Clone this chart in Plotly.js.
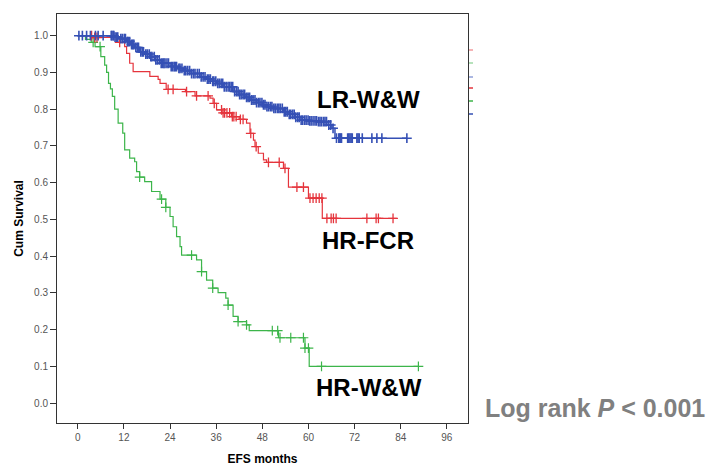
<!DOCTYPE html>
<html>
<head>
<meta charset="utf-8">
<script src="https://cdn.plot.ly/plotly-3.0.1.min.js"></script>
<style>html,body{margin:0;padding:0;background:#fff;}#chart{width:708px;height:466px;}</style>
</head>
<body>
<div id="chart"></div>
<script>
// ---- Data ----
// LR-W&W (blue)
const lrTimes = [9.5, 11, 12.7, 13.8, 14.8, 16.1, 17.5, 18.75, 20, 21.4, 24, 26, 27.4, 29.5, 31.8, 33.5, 35, 36.1, 38, 40.4, 42, 43.5, 44.8, 46.5, 48, 49.1, 51, 53.5, 55, 56.5, 57.8, 60, 62.2, 64.8, 66.1, 66.9];
const lrSurv  = [0.996, 0.992, 0.984, 0.976, 0.968, 0.956, 0.950, 0.943, 0.934, 0.925, 0.916, 0.911, 0.905, 0.897, 0.888, 0.882, 0.876, 0.870, 0.861, 0.848, 0.840, 0.832, 0.825, 0.818, 0.812, 0.807, 0.802, 0.793, 0.786, 0.778, 0.770, 0.768, 0.766, 0.757, 0.748, 0.721];
const lrEnd = 85.6;
const lrCensor = [0.3, 1.2, 2.3, 3.3, 4.6, 5.3, 6.6, 8.7, 8.9, 9.2, 9.4, 9.7, 10.1, 10.4, 11.2, 11.6, 12.1, 12.4, 12.9, 13.1, 13.5, 14.0, 14.3, 14.6, 15.1, 15.5, 15.8, 16.4, 16.8, 17.1, 17.7, 18.1, 18.6, 19.0, 19.3, 19.9, 20.3, 20.7, 21.2, 21.7, 22.1, 22.4, 22.7, 23.2, 23.6, 24.3, 24.7, 25.1, 25.4, 25.7, 26.3, 26.6, 27.1, 27.7, 28.1, 28.6, 29.1, 29.6, 30.1, 30.5, 31.1, 31.6, 32.1, 32.6, 33.1, 33.7, 34.1, 34.5, 35.1, 35.4, 35.9, 36.4, 36.8, 37.3, 37.7, 38.1, 38.6, 39.1, 39.5, 39.9, 40.3, 40.8, 41.3, 41.7, 42.1, 42.5, 43.0, 43.4, 43.9, 44.3, 44.7, 45.2, 45.6, 46.1, 46.5, 47.0, 47.4, 47.9, 48.3, 48.7, 49.2, 49.6, 50.1, 50.5, 51.0, 51.4, 51.9, 52.3, 52.7, 53.2, 53.7, 54.1, 54.5, 55.0, 55.4, 55.9, 56.3, 56.7, 57.2, 57.6, 58.1, 58.5, 59.0, 59.4, 59.9, 60.3, 60.7, 61.2, 61.7, 62.1, 62.6, 63.0, 63.4, 63.9, 64.3, 64.7, 65.3, 65.8, 66.4, 67.3, 67.9, 68.1, 68.4, 68.6, 70.2, 70.5, 70.8, 71.1, 71.4, 72.6, 72.9, 73.2, 74.0, 76.5, 77.8, 79.1, 85.6];

// HR-FCR (red)
const fcrTimes = [4.2, 10, 12.2, 12.7, 13.5, 14.4, 18.75, 20.9, 21.4, 23, 28, 30.5, 34.4, 35.2, 36.1, 37.5, 40, 42, 43.9, 44.8, 45.7, 46.1, 46.95, 48.3, 49.1, 53.5, 54.8, 60, 63.6];
const fcrSurv  = [0.995, 0.982, 0.970, 0.952, 0.925, 0.902, 0.889, 0.881, 0.870, 0.854, 0.848, 0.836, 0.830, 0.816, 0.798, 0.790, 0.780, 0.772, 0.762, 0.734, 0.716, 0.698, 0.680, 0.662, 0.655, 0.639, 0.588, 0.558, 0.503];
const fcrEnd = 83.0;
const fcrCensor = [3.6, 4.4, 5.0, 10.9, 23.5, 24.8, 28.3, 30.9, 33.9, 35.5, 37.4, 37.8, 38.2, 38.8, 39.5, 40.2, 40.6, 41.2, 42.3, 43.0, 45.0, 46.4, 49.6, 52.4, 53.9, 57.0, 58.7, 60.4, 61.2, 62.0, 62.8, 63.5, 64.8, 65.9, 66.5, 67.2, 75.2, 77.6, 78.2, 82.0];

// HR-W&W (green)
const hwwTimes = [2, 3.5, 4.5, 6, 7, 7.5, 8, 8.5, 9, 9.6, 10.5, 11.7, 12.2, 13.5, 14.8, 15.3, 16.1, 17.4, 19.2, 21.4, 22.9, 24, 24.8, 25.7, 26.6, 27, 30.9, 32.2, 33.5, 35.1, 36.5, 38.5, 39.1, 40.4, 41.7, 43.9, 44.6, 52.2, 59.1, 60.2];
const hwwSurv  = [0.990, 0.982, 0.970, 0.943, 0.920, 0.900, 0.870, 0.855, 0.835, 0.800, 0.762, 0.735, 0.689, 0.667, 0.657, 0.630, 0.615, 0.603, 0.576, 0.555, 0.533, 0.508, 0.480, 0.453, 0.426, 0.403, 0.390, 0.358, 0.335, 0.313, 0.301, 0.286, 0.267, 0.236, 0.222, 0.213, 0.1975, 0.178, 0.150, 0.100];
const hwwEnd = 88.6;
const hwwCensor = [4.0, 5.8, 16.1, 21.8, 22.9, 29.6, 32.2, 35.1, 39.1, 41.7, 43.9, 50.6, 52.0, 52.6, 55.4, 58.7, 59.1, 60.0, 63.4, 88.6];

const groupNames = ['LR-W&W', 'HR-FCR', 'HR-W&W'];
const xTicks = [0, 12, 24, 36, 48, 60, 72, 84, 96];
const yTicks = [0.0, 0.1, 0.2, 0.3, 0.4, 0.5, 0.6, 0.7, 0.8, 0.9, 1.0];

// ---- Styling ----
const BLUE = '#3550b5', RED = '#e5343c', GREEN = '#3cb54a';
const FONT = 'Arial, "Liberation Sans", sans-serif';

function survAt(times, surv, t) {
  let s = 1;
  for (let i = 0; i < times.length; i++) if (times[i] <= t) s = surv[i];
  return s;
}
function curveTraces(times, surv, end, censor, color, name, lw, mlw) {
  const x = [0].concat(times, [end]);
  const y = [1].concat(surv, [surv[surv.length - 1]]);
  return [
    {x: x, y: y, type: 'scatter', mode: 'lines', line: {shape: 'hv', color: color, width: lw}, name: name, showlegend: false, hoverinfo: 'skip'},
    {x: censor, y: censor.map(t => survAt(times, surv, t)), type: 'scatter', mode: 'markers',
     marker: {symbol: 'cross-thin', size: 7, color: color, line: {color: color, width: mlw}}, showlegend: false, hoverinfo: 'skip'}
  ];
}

const data = [].concat(
  curveTraces(hwwTimes, hwwSurv, hwwEnd, hwwCensor, GREEN, groupNames[2], 1.2, 1.2),
  curveTraces(fcrTimes, fcrSurv, fcrEnd, fcrCensor, RED, groupNames[1], 1.2, 1.3),
  curveTraces(lrTimes, lrSurv, lrEnd, lrCensor, BLUE, groupNames[0], 1.5, 1.6)
);

// plot-area geometry in pixels
const L = 57, R = 240, T = 14, B = 43, W = 708 - L - R, H = 466 - T - B;
const px = v => (v - L) / W;          // page x px -> paper
const py = v => 1 - (v - T) / H;      // page y px -> paper

const stubs = [
  {y: 50, c: '#f29a9d'}, {y: 63, c: '#9ed9a4'}, {y: 77, c: '#8f9fd8'},
  {y: 88, c: RED}, {y: 101, c: GREEN}, {y: 114, c: BLUE}
].map(s => ({type: 'line', xref: 'paper', yref: 'paper', x0: px(469), x1: px(473), y0: py(s.y), y1: py(s.y), line: {color: s.c, width: 1.5}}));

const ann = (text, x, y, size, color, anchor) => ({text: text, xref: 'paper', yref: 'paper', x: px(x), y: py(y), xanchor: anchor || 'center', yanchor: 'middle', showarrow: false, font: {family: FONT, size: size, color: color}});

const layout = {
  width: 708, height: 466,
  margin: {l: L, r: R, t: T, b: B, pad: 0},
  paper_bgcolor: '#fff', plot_bgcolor: '#fff',
  font: {family: FONT},
  xaxis: {
    range: [-5.4, 101.5], tickvals: xTicks, ticktext: xTicks.map(String),
    showgrid: false, zeroline: false, showline: true, mirror: true, linecolor: '#333', linewidth: 1,
    ticks: 'outside', ticklen: 5, tickcolor: '#333', tickwidth: 1,
    tickfont: {family: FONT, size: 10, color: '#555'},
    title: {text: '<b>EFS months</b>', font: {family: FONT, size: 12, color: '#000'}, standoff: 13}
  },
  yaxis: {
    range: [-0.054, 1.059], tickvals: yTicks, ticktext: yTicks.map(v => v.toFixed(1)),
    showgrid: false, zeroline: false, showline: true, mirror: true, linecolor: '#333', linewidth: 1,
    ticks: 'outside', ticklen: 6, tickcolor: '#333', tickwidth: 1,
    tickfont: {family: FONT, size: 10, color: '#555'},
    title: {text: '<b>Cum Survival</b>', font: {family: FONT, size: 12, color: '#000'}, standoff: 7}
  },
  shapes: stubs,
  annotations: [
    ann('<b>' + groupNames[0] + '</b>', 368, 99, 24, '#000'),
    ann('<b>' + groupNames[1] + '</b>', 368, 240, 24, '#000'),
    ann('<b>' + groupNames[2] + '</b>', 369, 387, 24, '#000'),
    ann('<b>Log rank <i>P</i> &lt; 0.001</b>', 707, 408, 25, '#808080', 'right')
  ]
};

Plotly.newPlot('chart', data, layout, {staticPlot: true, displayModeBar: false});
</script>
</body>
</html>
